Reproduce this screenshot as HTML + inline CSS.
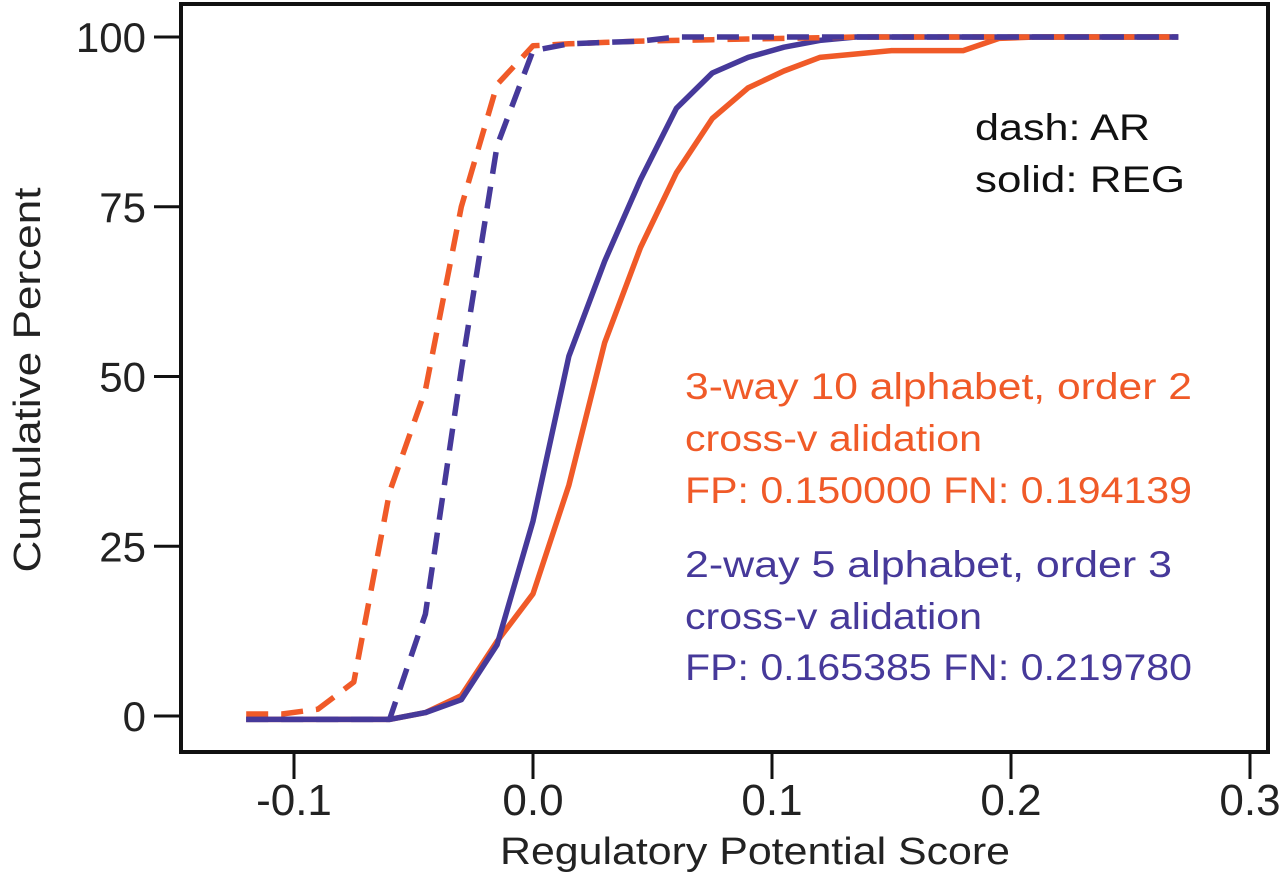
<!DOCTYPE html>
<html><head><meta charset="utf-8">
<style>
html,body{margin:0;padding:0;background:#fff;}
svg{display:block;font-family:"Liberation Sans",Arial,sans-serif;}
</style></head>
<body>
<svg id="chart" width="1280" height="877" viewBox="0 0 1280 877" xmlns="http://www.w3.org/2000/svg">
<rect x="181" y="4" width="1087" height="748" fill="none" stroke="#111" stroke-width="4"/>
<g id="axes"></g>
<g id="series"></g>
<text transform="translate(40,380) rotate(-90)" text-anchor="middle" font-size="38" fill="#222" textLength="385" lengthAdjust="spacingAndGlyphs">Cumulative Percent</text>
<text x="755" y="864" text-anchor="middle" font-size="38" fill="#222" textLength="510" lengthAdjust="spacingAndGlyphs">Regulatory Potential Score</text>
<text x="975" y="140" font-size="37" fill="#111" textLength="175" lengthAdjust="spacingAndGlyphs">dash: AR</text>
<text x="975" y="192" font-size="37" fill="#111" textLength="210" lengthAdjust="spacingAndGlyphs">solid: REG</text>
<g fill="#f05a28" font-size="37">
<text x="685" y="399" textLength="507" lengthAdjust="spacingAndGlyphs">3-way  10 alphabet, order 2</text>
<text x="685" y="451" textLength="297" lengthAdjust="spacingAndGlyphs">cross-v alidation</text>
<text x="685" y="503" textLength="507" lengthAdjust="spacingAndGlyphs">FP: 0.150000 FN: 0.194139</text>
</g>
<g fill="#46399a" font-size="37">
<text x="685" y="577" textLength="487" lengthAdjust="spacingAndGlyphs">2-way  5 alphabet, order 3</text>
<text x="685" y="629" textLength="297" lengthAdjust="spacingAndGlyphs">cross-v alidation</text>
<text x="685" y="680" textLength="507" lengthAdjust="spacingAndGlyphs">FP: 0.165385 FN: 0.219780</text>
</g>
</svg>
<script>
const xStart = -0.12, xStep = 0.015;
const arOrange  = [0.3,0.3,1,5,33,48,75,93,98.7,99,99.2,99.4,99.5,99.6,99.7,99.8,99.9,100,100,100,100,100,100,100,100,100,100];
const arBlue    = [-0.5,-0.5,-0.5,-0.5,-0.5,15,51,84,98,99,99.2,99.4,100,100,100,100,100,100,100,100,100,100,100,100,100,100,100];
const regOrange = [-0.5,-0.5,-0.5,-0.5,-0.5,0.5,3,11,18,34,55,69,80,88,92.5,95,97,97.5,98,98,98,99.8,100,100,100,100,100];
const regBlue   = [-0.5,-0.5,-0.5,-0.5,-0.5,0.5,2.4,10.5,28.7,53,67,79,89.5,94.7,97,98.5,99.5,100,100,100,100,100,100,100,100,100,100];
const xTicks = [-0.1,0.0,0.1,0.2,0.3];
const xTickLabels = ["-0.1","0.0","0.1","0.2","0.3"];
const yTicks = [0,25,50,75,100];
const yTickLabels = ["0","25","50","75","100"];

const NS="http://www.w3.org/2000/svg";
function sx(v){return 533 + v*2390;}
function sy(v){return 716 - v*6.79;}
const axes=document.getElementById('axes');
const series=document.getElementById('series');
function mk(tag,attrs,parent){const e=document.createElementNS(NS,tag);for(const k in attrs)e.setAttribute(k,attrs[k]);parent.appendChild(e);return e;}
xTicks.forEach((t,i)=>{
  const l=mk('line',{x1:sx(t),x2:sx(t),y1:752,y2:779,stroke:'#111','stroke-width':3},axes);
  
  
  const tx=mk('text',{x:sx(t),y:815,'text-anchor':'middle','font-size':44,fill:'#222'},axes);
  
  
  tx.textContent=xTickLabels[i];
});
yTicks.forEach((t,i)=>{
  const l=mk('line',{x1:154,x2:181,y1:sy(t),y2:sy(t),stroke:'#111','stroke-width':3},axes);
  
  
  const tx=mk('text',{x:146,y:sy(t)+15,'text-anchor':'end','font-size':42,fill:'#222'},axes);
  
  
  tx.textContent=yTickLabels[i];
});
function draw(vals,color,dash,name){
  const pts=vals.map((v,i)=>sx(xStart+i*xStep).toFixed(1)+','+sy(v).toFixed(1)).join(' ');
  const p=mk('polyline',{points:pts,fill:'none',stroke:color,'stroke-width':5.5,'stroke-linejoin':'round'},series);
  if(dash)p.setAttribute('stroke-dasharray','22 13');
  
  
}
draw(regOrange,'#f05a28',false,'reg-3way-line');
draw(regBlue,'#46399a',false,'reg-2way-line');
draw(arOrange,'#f05a28',true,'ar-3way-line');
draw(arBlue,'#46399a',true,'ar-2way-line');
</script>
</body></html>
